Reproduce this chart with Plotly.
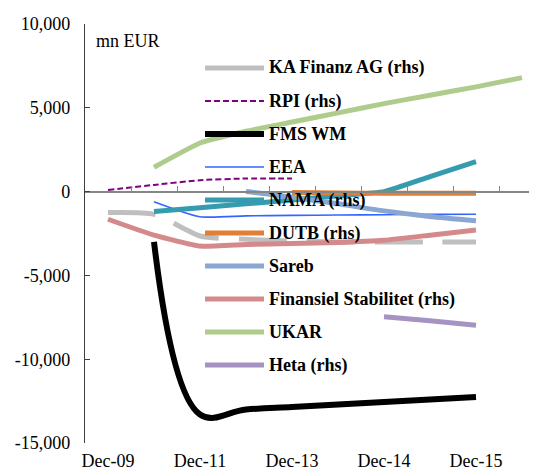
import plotly.graph_objects as go

# categories along the x axis (only every other one is labelled)
periods = ['Dec-09', 'Dec-10', 'Dec-11', 'Dec-12', 'Dec-13',
           'Jun-14', 'Dec-14', 'Jun-15', 'Dec-15', 'Jun-16']
tick_labels = ['Dec-09', '', 'Dec-11', '', 'Dec-13', '', 'Dec-14', '', 'Dec-15', '']
y_ticks = [-15000, -10000, -5000, 0, 5000, 10000]
y_tick_labels = ['-15,000', '-10,000', '-5,000', '0', '5,000', '10,000']

# mn EUR, None where the vehicle did not exist / no data
ka_finanz = [-1250, -1350, -2650, -2850, -2950, -3000, -3000, -3000, -3000, None]
rpi = [100, 400, 680, 780, 780, None, None, None, None, None]
fms_wm = [None, -3000, -13300, -13000, -12850, -12700, -12550, -12400, -12250, None]
eea = [None, -600, -1500, -1450, -1420, -1400, -1380, -1360, -1350, None]
nama = [None, -1190, -960, -730, -500, -250, 0, 900, 1790, None]
dutb = [None, None, None, None, -50, -80, -100, -100, -100, None]
sareb = [None, None, None, 0, -330, -730, -1150, -1480, -1740, None]
finansiel = [-1650, -2600, -3250, -3150, -3100, -3030, -2900, -2600, -2290, None]
ukar = [None, 1450, 2900, 3600, 4150, 4700, 5250, 5750, 6250, 6800]
heta = [None, None, None, None, None, None, -7470, -7700, -7970, None]

series = [
    ('KA Finanz AG (rhs)', ka_finanz, '#BFBFBF', 5, '48px,20px', 0.6),
    ('RPI (rhs)', rpi, '#800080', 2, '6px,3px', 0.6),
    ('FMS WM', fms_wm, '#000000', 6, 'solid', 1.1),
    ('EEA', eea, '#3366FF', 1.6, 'solid', 0.6),
    ('NAMA (rhs)', nama, '#359BAE', 5, 'solid', 0.4),
    ('DUTB (rhs)', dutb, '#E07F35', 5, 'solid', 0.4),
    ('Sareb', sareb, '#8AA6D2', 5, 'solid', 0.6),
    ('Finansiel Stabilitet (rhs)', finansiel, '#D48A8A', 5, 'solid', 0.4),
    ('UKAR', ukar, '#B0CC8C', 5, 'solid', 0.4),
    ('Heta (rhs)', heta, '#A593C2', 5, 'solid', 0.4),
]

x = list(range(len(periods)))
font = 'Times New Roman'
x_range = [-0.5, 9.5]

fig = go.Figure()
for name, vals, color, width, dash, smooth in series:
    fig.add_trace(go.Scatter(
        x=x, y=vals, name=name, mode='lines',
        line=dict(color=color, width=width, dash=dash, shape='spline', smoothing=smooth),
        hovertext=periods, showlegend=False,
    ))

# axis drawn through zero with category tick marks
fig.add_trace(go.Scatter(x=[0], y=[0], xaxis='x2', mode='markers',
                         marker=dict(opacity=0), showlegend=False, hoverinfo='skip'))

# legend drawn by hand so the line samples are as long as in the original
plot_h = 473 - 16 - 38
shapes, annotations = [], []
for k, (name, vals, color, width, dash, smooth) in enumerate(series):
    yy = 1 - (60 + 33 * k - 16) / plot_h
    shapes.append(dict(
        type='line', xref='paper', yref='paper',
        x0=(205 - 85) / 460, x1=(264 - 85) / 460, y0=yy, y1=yy,
        line=dict(color=color, width=width,
                  dash='solid' if k == 0 else dash),
    ))
    annotations.append(dict(
        text=name, xref='paper', yref='paper', x=(267 - 85) / 460, y=yy,
        xanchor='left', yanchor='middle', showarrow=False,
        font=dict(family=font, size=18, color='black', weight='bold'),
    ))

annotations.append(dict(
    text='mn EUR', xref='paper', yref='paper', x=0.02, y=0.96,
    xanchor='left', yanchor='middle', showarrow=False,
    font=dict(family=font, size=18),
))

fig.update_layout(
    width=537, height=473,
    margin=dict(l=77, r=0, t=16, b=38),
    plot_bgcolor='white', paper_bgcolor='white',
    font=dict(family=font, size=18, color='black'),
    showlegend=False,
    xaxis=dict(
        range=x_range, tickmode='array', tickvals=x, ticktext=tick_labels,
        showline=False, ticks='', showgrid=False, zeroline=False,
        tickfont=dict(family=font, size=18), ticklabelstandoff=5,
    ),
    xaxis2=dict(
        overlaying='x', anchor='free', position=0.6, range=x_range,
        showline=True, linecolor='#868686', linewidth=1.5,
        tickmode='linear', tick0=-0.5, dtick=1, ticks='inside', ticklen=5,
        tickcolor='#868686', showticklabels=False, showgrid=False, zeroline=False,
    ),
    yaxis=dict(
        range=[-15000, 10000], tickmode='array', tickvals=y_ticks, ticktext=y_tick_labels,
        showline=True, linecolor='#404040', linewidth=1.3,
        ticks='inside', ticklen=5, tickcolor='#404040',
        showgrid=False, zeroline=False, ticklabelstandoff=10,
        tickfont=dict(family=font, size=18),
    ),
    shapes=shapes,
    annotations=annotations,
)

fig.write_html('out.html')
